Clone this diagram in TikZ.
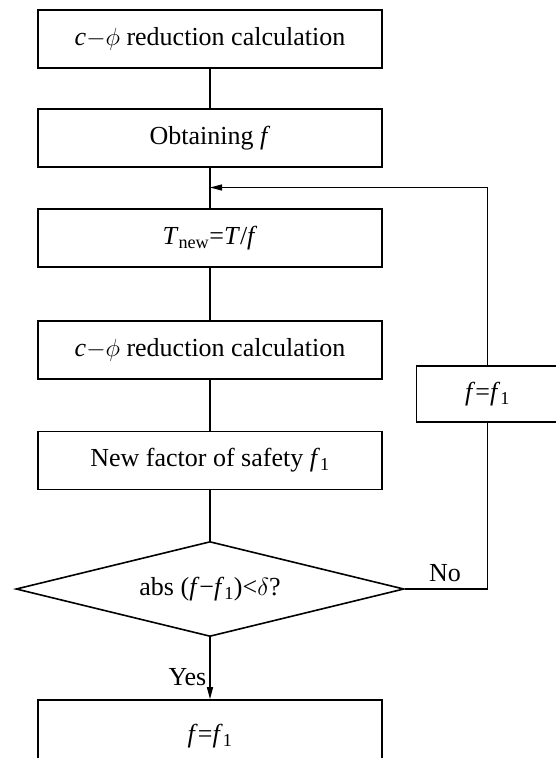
\documentclass[tikz,border=0pt]{standalone}
\usepackage{fontspec}
\setmainfont{Liberation Serif}
\usetikzlibrary{shapes.geometric,arrows.meta}

\begin{document}
\begin{tikzpicture}
    [x=1pt,y=-1pt,line width=1.3pt,
     every node/.style={font=\fontsize{26}{30}\selectfont,inner sep=0pt},
     block/.style={draw,rectangle,line width=1.6pt,minimum width=344pt,minimum height=58pt},
     test/.style={draw,diamond,aspect=4.08,line width=1.6pt,minimum width=388pt,minimum height=95pt},
     tip/.style={-{Triangle[length=12pt,width=6pt]}}]
    \useasboundingbox (0,0) rectangle (555,758);

    \node[block] (n1) at (210,39) {\textit{c}${-}\phi$ reduction calculation};
    \node[block] (n2) at (210,138) {Obtaining \textit{f}};
    \node[block] (n3) at (210,238) {\textit{T}\textsubscript{new}=\textit{T}/\textit{f}};
    \node[block] (n4) at (210,350) {\textit{c}${-}\phi$ reduction calculation};
    \node[block] (n5) at (210,460.5) {New factor of safety \textit{f}\textsubscript{1}};
    \node[test] (n6) at (210,589) {abs (\textit{f}−\textit{f}\textsubscript{1})<$\delta$?};
    \node[block,minimum width=142pt,minimum height=56pt] (n7) at (487.5,394) {\textit{f}=\textit{f}\textsubscript{1}};
    \node[block,minimum height=72pt] (n8) at (210,736) {\textit{f}=\textit{f}\textsubscript{1}};
    \coordinate (j) at (210,187.5);

    \draw (n1) -- (n2);
    \draw (n2) -- (n3);
    \draw (n3) -- (n4);
    \draw (n4) -- (n5);
    \draw (n5) -- (n6);
    \draw[tip] (n6) -- (n8);
    \draw (n6.east) -| (n7.south);
    \draw[tip] (n7.north) |- (j);

    \node[anchor=east] (yes) at (207,677) {Yes};
    \node (no) at (445,573) {No};
  \end{tikzpicture}
\end{document}
